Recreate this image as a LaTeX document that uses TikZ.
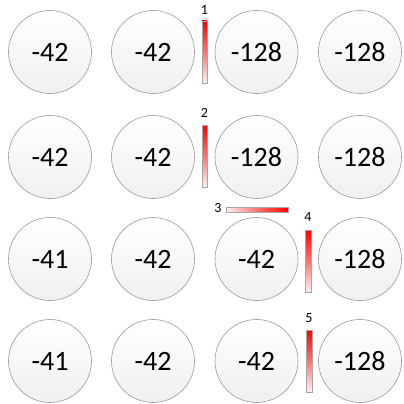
\documentclass[tikz,border=0pt]{standalone}
\usepackage{fontspec}
\setmainfont{Carlito}
\begin{document}
\begin{tikzpicture}[x=1pt,y=-1pt,
  cell/.style={circle,minimum size=83pt,inner sep=0pt,draw=gray!80,line width=0.6pt,
    top color=white,bottom color=gray!12,font=\fontsize{28}{28}\selectfont},
  vbar/.style={draw=gray!70,line width=0.4pt,top color=red,bottom color=red!5,middle color=red!55},
  hbar/.style={draw=gray!70,line width=0.4pt,left color=red!5,right color=red,middle color=red!55},
  lbl/.style={font=\fontsize{14}{14}\selectfont,inner sep=0pt}]
\useasboundingbox (0,0) rectangle (404,404);
% row 1
\node[cell] (a1) at (50,52) {-42};
\node[cell] (a2) at (153,52) {-42};
\node[cell] (a3) at (256.5,52) {-128};
\node[cell] (a4) at (360,52) {-128};
% row 2
\node[cell] (b1) at (50,157) {-42};
\node[cell] (b2) at (153,157) {-42};
\node[cell] (b3) at (256.5,157) {-128};
\node[cell] (b4) at (360,157) {-128};
% row 3
\node[cell] (c1) at (50,259) {-41};
\node[cell] (c2) at (153,259) {-42};
\node[cell] (c3) at (256.5,259) {-42};
\node[cell] (c4) at (360,259) {-128};
% row 4
\node[cell] (d1) at (50,361) {-41};
\node[cell] (d2) at (153,361) {-42};
\node[cell] (d3) at (256.5,361) {-42};
\node[cell] (d4) at (360,361) {-128};
% bars
\shade[vbar] (202,21) rectangle (207,83);
\node[lbl] (l1) at (204.5,10) {1};
\shade[vbar] (202,125) rectangle (207,187);
\node[lbl] (l2) at (204.5,113) {2};
\shade[hbar] (226,207) rectangle (288,212);
\node[lbl] (l3) at (218,208) {3};
\shade[vbar] (305,230) rectangle (311,292);
\node[lbl] (l4) at (308,217) {4};
\shade[vbar] (306,330) rectangle (312,392);
\node[lbl] (l5) at (309,318) {5};
\end{tikzpicture}
\end{document}
